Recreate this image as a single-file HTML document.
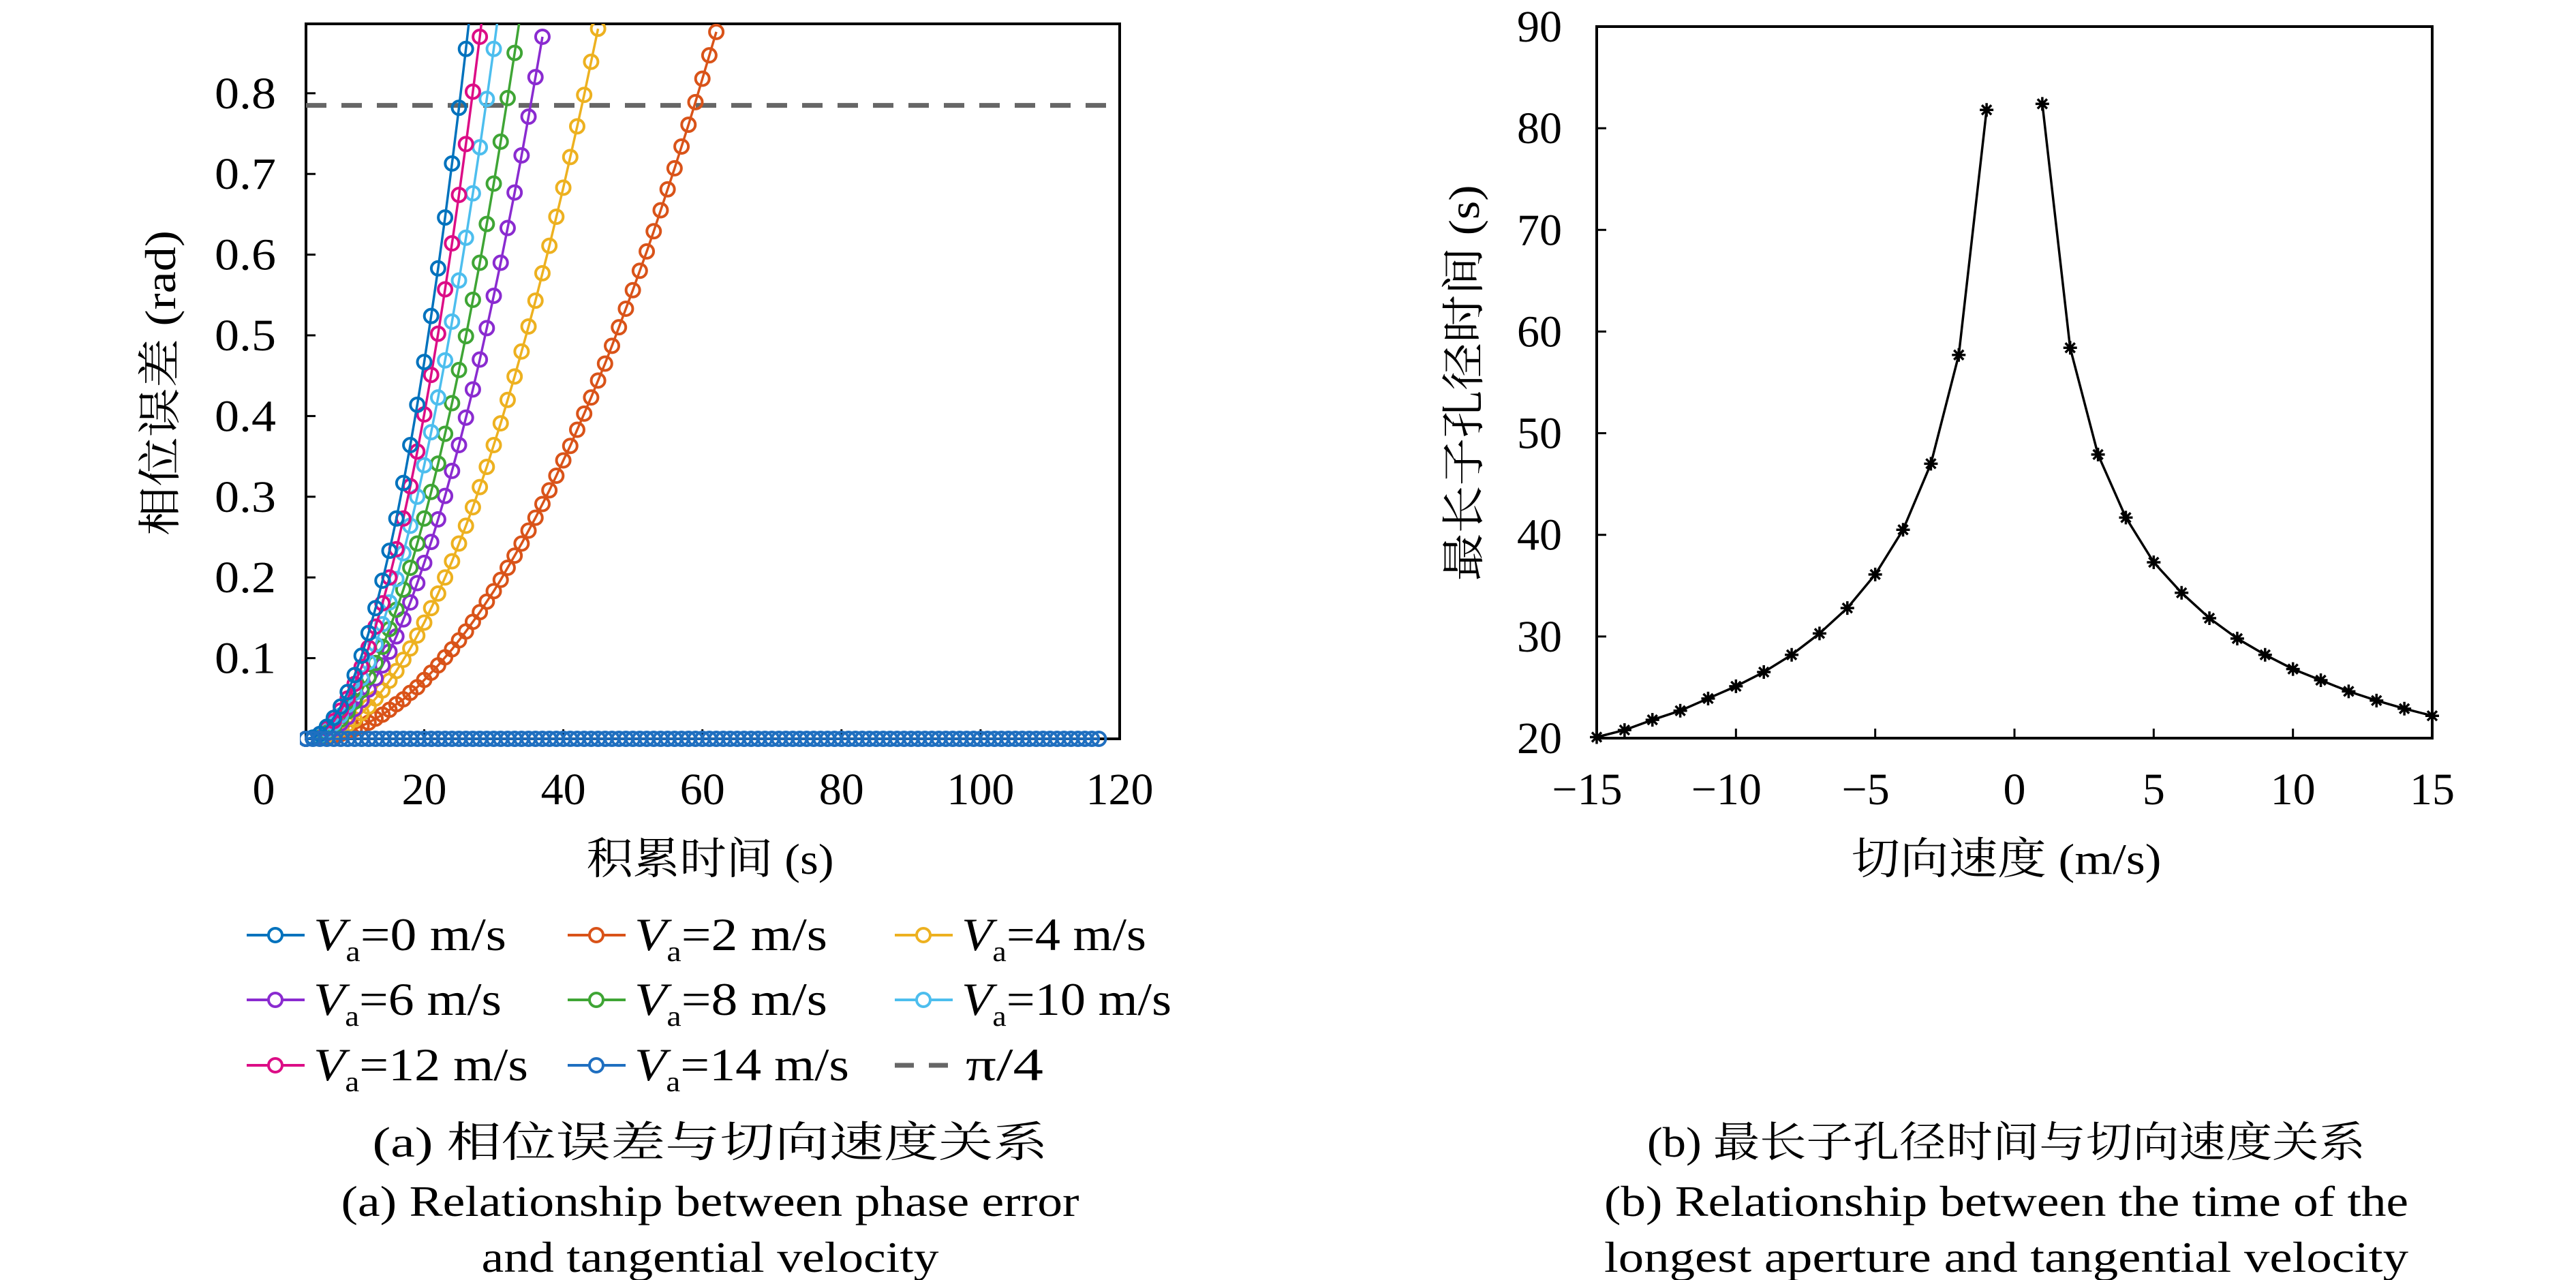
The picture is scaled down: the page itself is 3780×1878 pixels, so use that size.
<!DOCTYPE html>
<html><head><meta charset="utf-8">
<style>
html,body{margin:0;padding:0;background:#fff;}
svg{display:block;}
text{font-family:"Liberation Serif","Noto Serif CJK SC","Noto Sans CJK SC",serif;fill:#000;}
</style></head>
<body>
<svg id="fig" width="3780" height="1878" viewBox="0 0 3780 1878" xmlns="http://www.w3.org/2000/svg">
  <defs>
    <clipPath id="clipA"><rect x="440" y="35" width="1215" height="1062"/></clipPath>
  </defs>
  <g id="chartA"></g>
  <g id="chartB"></g>
  <text x="1042" y="1697" font-size="62" text-anchor="middle" textLength="991" lengthAdjust="spacingAndGlyphs">(a) 相位误差与切向速度关系</text>
  <text x="1042" y="1784" font-size="64" text-anchor="middle" textLength="1083" lengthAdjust="spacingAndGlyphs">(a) Relationship between phase error</text>
  <text x="1042" y="1866" font-size="64" text-anchor="middle" textLength="671" lengthAdjust="spacingAndGlyphs">and tangential velocity</text>
  <text x="2944" y="1697" font-size="62" text-anchor="middle" textLength="1054" lengthAdjust="spacingAndGlyphs">(b) 最长子孔径时间与切向速度关系</text>
  <text x="2944" y="1784" font-size="64" text-anchor="middle" textLength="1180" lengthAdjust="spacingAndGlyphs">(b) Relationship between the time of the</text>
  <text x="2944" y="1866" font-size="64" text-anchor="middle" textLength="1180" lengthAdjust="spacingAndGlyphs">longest aperture and tangential velocity</text>
</svg>
<script>
// ---------- Chart A data ----------
const tStart = 3;
const labelsA = ["0 m/s","2 m/s","4 m/s","6 m/s","8 m/s","10 m/s","12 m/s","14 m/s"];
const v0 = [0,0.0016,0.006,0.015,0.026,0.040,0.058,0.079,0.103,0.131,0.162,0.196,0.233,0.273,0.317,0.364,0.414,0.467,0.524,0.583,0.646,0.713,0.782,0.855,0.931];
const v2 = [0,0.0003,0.001,0.002,0.004,0.006,0.009,0.012,0.016,0.020,0.025,0.030,0.036,0.043,0.049,0.057,0.064,0.073,0.082,0.091,0.101,0.111,0.122,0.133,0.145,0.157,0.170,0.183,0.197,0.212,0.227,0.242,0.258,0.274,0.291,0.308,0.326,0.345,0.363,0.383,0.403,0.423,0.444,0.465,0.487,0.510,0.533,0.556,0.580,0.604,0.629,0.655,0.681,0.707,0.734,0.761,0.789,0.818,0.847,0.876];
const v4 = [0,0.0005,0.002,0.0045,0.008,0.012,0.018,0.024,0.032,0.040,0.050,0.060,0.072,0.084,0.098,0.112,0.128,0.144,0.162,0.180,0.200,0.220,0.242,0.264,0.287,0.312,0.337,0.364,0.391,0.420,0.449,0.480,0.511,0.543,0.577,0.611,0.647,0.683,0.721,0.759,0.798,0.839,0.880];
const v6 = [0,0.0008,0.003,0.007,0.012,0.019,0.027,0.037,0.048,0.061,0.075,0.091,0.108,0.127,0.148,0.169,0.193,0.218,0.244,0.272,0.301,0.332,0.364,0.398,0.433,0.470,0.509,0.549,0.590,0.633,0.677,0.723,0.771,0.820,0.870];
const v8 = [0,0.0009,0.004,0.008,0.015,0.024,0.034,0.046,0.060,0.076,0.094,0.114,0.136,0.160,0.185,0.212,0.242,0.273,0.306,0.341,0.378,0.416,0.457,0.499,0.544,0.590,0.638,0.688,0.740,0.794,0.850,0.907];
const v10 = [0,0.0012,0.005,0.011,0.019,0.029,0.042,0.057,0.075,0.095,0.117,0.142,0.169,0.198,0.230,0.264,0.300,0.339,0.380,0.423,0.469,0.517,0.568,0.621,0.676,0.733,0.793,0.855,0.920];
const v12 = [0,0.0014,0.006,0.013,0.022,0.035,0.050,0.068,0.089,0.113,0.139,0.168,0.200,0.235,0.273,0.313,0.356,0.402,0.451,0.502,0.557,0.614,0.674,0.737,0.802,0.870,0.941];
const v14 = [0,0,0,0,0,0,0,0,0,0,0,0,0,0,0,0,0,0,0,0,0,0,0,0,0,0,0,0,0,0,0,0,0,0,0,0,0,0,0,0,0,0,0,0,0,0,0,0,0,0,0,0,0,0,0,0,0,0,0,0,0,0,0,0,0,0,0,0,0,0,0,0,0,0,0,0,0,0,0,0,0,0,0,0,0,0,0,0,0,0,0,0,0,0,0,0,0,0,0,0,0,0,0,0,0,0,0,0,0,0,0,0,0,0,0];
const xTicksA = [0,20,40,60,80,100,120];
const yTicksA = [0.1,0.2,0.3,0.4,0.5,0.6,0.7,0.8];
const piQuarter = 0.785;

// ---------- Chart B data ----------
const speedsNeg = [-15,-14,-13,-12,-11,-10,-9,-8,-7,-6,-5,-4,-3,-2,-1];
const timesNeg = [20.1,20.8,21.8,22.7,23.9,25.1,26.5,28.2,30.3,32.8,36.1,40.5,47.0,57.7,81.8];
const speedsPos = [1,2,3,4,5,6,7,8,9,10,11,12,13,14,15];
const timesPos = [82.4,58.4,47.9,41.7,37.3,34.3,31.8,29.8,28.2,26.8,25.7,24.6,23.7,22.9,22.2];
const xTicksB = [-15,-10,-5,0,5,10,15];
const yTicksB = [20,30,40,50,60,70,80,90];

const NS = "http://www.w3.org/2000/svg";
function mk(tag, attrs, parent){
  const e = document.createElementNS(NS, tag);
  for (const k in attrs) e.setAttribute(k, attrs[k]);
  parent.appendChild(e);
  return e;
}

// ---------- Chart A ----------
(function(){
  const g = document.getElementById('chartA');
  const L=449, R=1643, T=35, B=1084;
  const xmin=3, xmax=120, ymin=0, ymax=0.886;
  const sx = v => L + (v-xmin)/(xmax-xmin)*(R-L);
  const sy = v => B - (v-ymin)/(ymax-ymin)*(B-T);
  const f = mk('rect',{x:L,y:T,width:R-L,height:B-T,fill:'none',stroke:'#000','stroke-width':4},g);
  
  
  yTicksA.forEach(v=>{
    const t = mk('line',{x1:L,x2:L+14,y1:sy(v),y2:sy(v),stroke:'#000','stroke-width':3},g);
    
    
    const tx = mk('text',{x:405,y:sy(v)+22,'font-size':66,'text-anchor':'end',textLength:90,lengthAdjust:'spacingAndGlyphs'},g);
    tx.textContent = v.toFixed(1);
    
    
  });
  xTicksA.forEach(v=>{
    const px = v===0 ? 387 : sx(v);
    if (v>xmin){
      const t = mk('line',{x1:sx(v),x2:sx(v),y1:B,y2:B-14,stroke:'#000','stroke-width':3},g);
      
      
    }
    const tx = mk('text',{x:px,y:1180,'font-size':66,'text-anchor':'middle'},g);
    tx.textContent = String(v);
    
    
  });
  const xt = mk('text',{x:1042,y:1282,'font-size':64,'text-anchor':'middle',textLength:363,lengthAdjust:'spacingAndGlyphs'},g);
  xt.textContent = '积累时间 (s)';
  
  
  const yt = mk('text',{x:0,y:0,'font-size':64,'text-anchor':'middle',textLength:448,lengthAdjust:'spacingAndGlyphs',transform:'translate(257,562) rotate(-90)'},g);
  yt.textContent = '相位误差 (rad)';
  
  

  const series = [v0,v2,v4,v6,v8,v10,v12,v14];
  const colors = ['#0072BD','#D95319','#EDB120','#8A2BD0','#3FA535','#4DBEEE','#DC0D86','#1F6FC0'];
  const clip = mk('g',{'clip-path':'url(#clipA)'},g);
  
  
  const dl = mk('line',{x1:L,x2:R,y1:sy(piQuarter),y2:sy(piQuarter),stroke:'#666','stroke-width':7,'stroke-dasharray':'30 22'},clip);
  
  
  const order = [1,2,3,4,5,6,0,7];
  order.forEach(si=>{
    const vals = series[si];
    const sg = mk('g',{},clip);
    
    
    const pts = vals.map((v,i)=>sx(tStart+i).toFixed(1)+','+sy(v).toFixed(1)).join(' ');
    const pl = mk('polyline',{points:pts,fill:'none',stroke:colors[si],'stroke-width':3.5},sg);
    
    
    vals.forEach((v,i)=>{
      const c = mk('circle',{cx:sx(tStart+i),cy:sy(v),r:10,fill:'none',stroke:colors[si],'stroke-width':4},sg);
      
      
    });
  });
  // legend
  const lg = mk('g',{},g);
  
  
  const colsX = [362,833,1313];
  const rowsY = [1372,1467,1563];
  const widths = [283,283,271,276,283,308,315,315];
  for (let i=0;i<9;i++){
    const cx = colsX[i%3], cy = rowsY[Math.floor(i/3)];
    const e = mk('g',{},lg);
    
    
    if (i<8){
      mk('line',{x1:cx,x2:cx+85,y1:cy,y2:cy,stroke:colors[i],'stroke-width':4},e);
      mk('circle',{cx:cx+42,cy:cy,r:10,fill:'#fff',stroke:colors[i],'stroke-width':4},e);
      const t = mk('text',{x:cx+98,y:cy+22,'font-size':68,textLength:widths[i],lengthAdjust:'spacingAndGlyphs'},e);
      const v = mk('tspan',{'font-style':'italic'},t); v.textContent='V';
      const s = mk('tspan',{'font-size':42,dy:16},t); s.textContent='a';
      const r = mk('tspan',{dy:-16},t); r.textContent='='+labelsA[i];
    } else {
      mk('line',{x1:cx,x2:cx+85,y1:cy,y2:cy,stroke:'#666','stroke-width':7,'stroke-dasharray':'28 22'},e);
      const t = mk('text',{x:cx+104,y:cy+22,'font-size':68,textLength:114,lengthAdjust:'spacingAndGlyphs'},e);
      t.textContent='π/4';
    }
  }
})();

// ---------- Chart B ----------
(function(){
  const g = document.getElementById('chartB');
  const L=2343, R=3569, T=39, B=1083;
  const xmin=-15, xmax=15, ymin=20, ymax=90;
  const sx = v => L + (v-xmin)/(xmax-xmin)*(R-L);
  const sy = v => B - (v-ymin)/(ymax-ymin)*(B-T);
  const f = mk('rect',{x:L,y:T,width:R-L,height:B-T,fill:'none',stroke:'#000','stroke-width':4},g);
  
  
  yTicksB.forEach(v=>{
    if (v>ymin && v<ymax){
      const t = mk('line',{x1:L,x2:L+14,y1:sy(v),y2:sy(v),stroke:'#000','stroke-width':3},g);
      
      
    }
    const tx = mk('text',{x:2292,y:sy(v)+22,'font-size':66,'text-anchor':'end'},g);
    tx.textContent = String(v);
    
    
  });
  xTicksB.forEach(v=>{
    if (v>xmin && v<xmax){
      const t = mk('line',{x1:sx(v),x2:sx(v),y1:B,y2:B-14,stroke:'#000','stroke-width':3},g);
      
      
    }
    const tx = mk('text',{x:sx(v)-(v<0?14:0),y:1180,'font-size':66,'text-anchor':'middle'},g);
    tx.textContent = v<0 ? '−'+Math.abs(v) : String(v);
    
    
  });
  const xt = mk('text',{x:2944,y:1282,'font-size':64,'text-anchor':'middle',textLength:455,lengthAdjust:'spacingAndGlyphs'},g);
  xt.textContent = '切向速度 (m/s)';
  
  
  const yt = mk('text',{x:0,y:0,'font-size':64,'text-anchor':'middle',textLength:581,lengthAdjust:'spacingAndGlyphs',transform:'translate(2170,562) rotate(-90)'},g);
  yt.textContent = '最长子孔径时间 (s)';
  
  
  [[speedsNeg,timesNeg,'negative'],[speedsPos,timesPos,'positive']].forEach(([xs,ys,nm])=>{
    const sg = mk('g',{},g);
    
    
    const pts = xs.map((x,i)=>sx(x).toFixed(1)+','+sy(ys[i]).toFixed(1)).join(' ');
    const pl = mk('polyline',{points:pts,fill:'none',stroke:'#000','stroke-width':3.5},sg);
    
    
    xs.forEach((x,i)=>{
      const cx=sx(x), cy=sy(ys[i]), r=10;
      const m = mk('path',{d:`M${cx-r},${cy}H${cx+r}M${cx},${cy-r}V${cy+r}M${cx-7},${cy-7}L${cx+7},${cy+7}M${cx-7},${cy+7}L${cx+7},${cy-7}`,stroke:'#000','stroke-width':3.5},sg);
      
      
    });
  });
})();
</script>
</body></html>
